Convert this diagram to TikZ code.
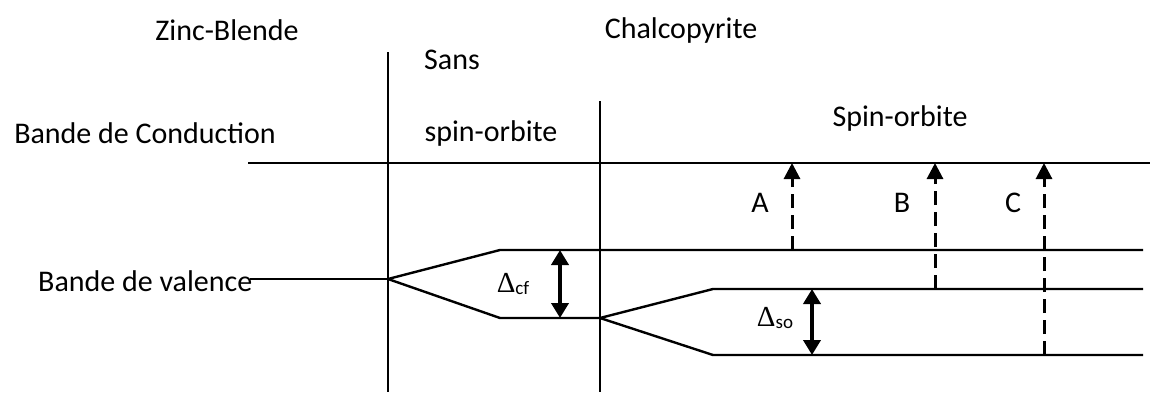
\documentclass[tikz,border=0pt]{standalone}
\usepackage{fontspec}
\setmainfont{Carlito}
\newfontfamily\greekser{Liberation Serif}
\usetikzlibrary{arrows.meta}
\newcommand{\dlt}[1]{{\greekser\fontsize{29}{30}\selectfont Δ}\raisebox{-0.5ex}{\fontsize{19}{20}\selectfont #1}}
\begin{document}
\begin{tikzpicture}[x=1pt,y=-1pt,
  lbl/.style={inner sep=0pt,font=\fontsize{30}{34}\selectfont},
  band/.style={line width=2.4pt},
  trans/.style={line width=3pt,dash pattern=on 14pt off 7pt,-{Triangle[length=16pt,width=16pt]}},
  split/.style={line width=4pt,{Triangle[length=15pt,width=17pt]}-{Triangle[length=15pt,width=17pt]}}]
\useasboundingbox (0,0) rectangle (1150,394);
% labels
\node[lbl] (zb) at (227,30) {Zinc-Blende};
\node[lbl] (ch) at (681,30) {Chalcopyrite};
\node[lbl] (sans) at (452,60) {Sans};
\node[lbl] (so1) at (491,133) {spin-orbite};
\node[lbl] (so2) at (900,118) {Spin-orbite};
\node[lbl] (bc) at (145,133) {Bande de Conduction};
\node[lbl,anchor=west] (bv) at (38,281) {Bande de valence};
% coordinates
\coordinate (v1t) at (388,52); \coordinate (v1b) at (388,392);
\coordinate (v2t) at (600,101); \coordinate (v2b) at (600,392);
\coordinate (cbl) at (248,163); \coordinate (cbr) at (1150,163);
\coordinate (vl) at (250,279); \coordinate (p1) at (388,279);
\coordinate (u1) at (500,250); \coordinate (u1r) at (1143,250);
\coordinate (l1) at (500,318); \coordinate (p2) at (600,318);
\coordinate (u2) at (713,289); \coordinate (u2r) at (1143,289);
\coordinate (l2) at (713,355); \coordinate (l2r) at (1143,355);
% frame lines
\draw[band] (v1t) -- (v1b);
\draw[band] (v2t) -- (v2b);
\draw[band] (cbl) -- (cbr);
\draw[band] (vl) -- (p1);
\draw[band] (p1) -- (u1) -- (u1r);
\draw[band] (p1) -- (l1) -- (p2);
\draw[band] (p2) -- (u2) -- (u2r);
\draw[band] (p2) -- (l2) -- (l2r);
% splittings
\coordinate (cft) at (560,250); \coordinate (cfb) at (560,318);
\draw[split] (cft) -- (cfb);
\node[inner sep=0pt] (dcf) at (513,284) {\dlt{cf}};
\coordinate (sot) at (812,289); \coordinate (sob) at (812,355);
\draw[split] (sot) -- (sob);
\node[inner sep=0pt] (dso) at (775,318) {\dlt{so}};
% transitions
\coordinate (a0) at (792,250); \coordinate (a1) at (792,163);
\coordinate (b0) at (935,289); \coordinate (b1) at (935,163);
\coordinate (c0) at (1044,355); \coordinate (c1) at (1044,163);
\draw[trans] (a0) -- (a1);
\draw[trans] (b0) -- (b1);
\draw[trans] (c0) -- (c1);
\node[lbl] (A) at (760,203) {A};
\node[lbl] (B) at (902,203) {B};
\node[lbl] (C) at (1013,203) {C};
\end{tikzpicture}
\end{document}
